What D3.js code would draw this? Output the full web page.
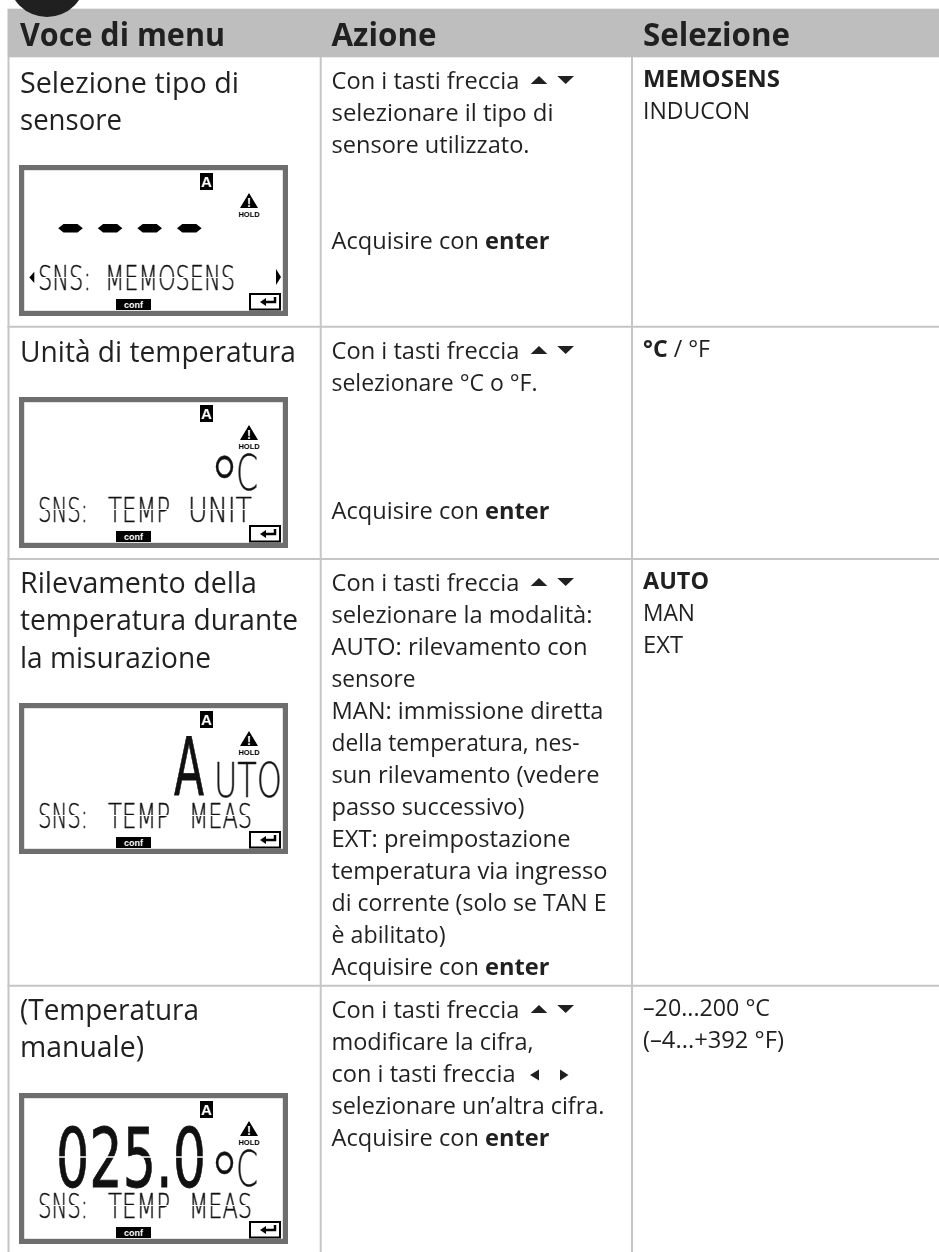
<!DOCTYPE html>
<html>
<head>
<meta charset="utf-8">
<title>Voce di menu</title>
<script src="https://d3js.org/d3.v7.min.js"></script>
<style>
    body { margin: 0; background: #fff; }
    svg { display: block; filter: grayscale(1); }
    text { fill: #231f20; }
    .head { font: 700 32px "Open Sans"; }
    .big { font: 400 30px "Open Sans"; }
    .mid, .sel { font: 400 24px "Open Sans"; }
    .lcd { font-family: "DejaVu Sans"; font-weight: 200; fill: #111; stroke: #111; stroke-width: 0.4; }
</style>
</head>
<body>
<svg id="page" width="939" height="1252"></svg>
<script>
// header labels
const headLabels = ["Voce di menu", "Azione", "Selezione"];

// first column, one list per row
const menuRows = [
    ["Selezione tipo di", "sensore"],
    ["Unità di temperatura"],
    ["Rilevamento della", "temperatura durante", "la misurazione"],
    ["(Temperatura", "manuale)"]
];

// second column, ** marks a bold piece, ^ and < are the arrow keys
const actionRows = [
    ["Con i tasti freccia ^", "selezionare il tipo di", "sensore utilizzato.", "", "", "Acquisire con **enter"],
    ["Con i tasti freccia ^", "selezionare °C o °F.", "", "", "", "Acquisire con **enter"],
    ["Con i tasti freccia ^", "selezionare la modalità:", "AUTO: rilevamento con", "sensore", "MAN: immissione diretta", "della temperatura, nes-", "sun rilevamento (vedere", "passo successivo)", "EXT: preimpostazione", "temperatura via ingresso", "di corrente (solo se TAN E", "è abilitato)", "Acquisire con **enter"],
    ["Con i tasti freccia ^", "modificare la cifra,", "con i tasti freccia <", "selezionare un’altra cifra.", "Acquisire con **enter"]
];

// third column
const selectRows = [
    ["**MEMOSENS", "INDUCON"],
    ["**°C / °F"],
    ["**AUTO", "MAN", "EXT"],
    ["–20...200 °C", "(–4...+392 °F)"]
];

// LCD readouts
const lcdFoot = [["SNS:", "MEMOSENS"], ["SNS:", "TEMP", "UNIT"], ["SNS:", "TEMP", "MEAS"], ["SNS:", "TEMP", "MEAS"]];

// layout, kept away from the texts
const headX = [20, 331.5, 643];
const headW = [205, 105, 147];
const menuW = [[219, 102], [276], [237, 278, 191], [179, 124]];
const actionW = [
    [188, 222, 198, 0, 0, 218],
    [188, 206, 0, 0, 0, 218],
    [188, 261, 256, 84, 272, 248, 268, 193, 239, 276, 275, 114, 218],
    [188, 202, 184, 273, 218]
];
const selectW = [[137, 107], [67], [66, 52, 40], [127, 141]];
const menuBase = [92.7, 361.5, 592.7, 1020];
const actionBase = [89, 359, 591, 1018];
const rowLines = [326.7, 559, 985.7];
const colLines = [8.5, 320.7, 632];
const lcdTops = [165, 397, 703, 1093];
const footX = [[19, 86], [19, 89, 169], [19, 89, 170], [19, 89, 170]];
const footW = [[53, 130], [50, 62, 64], [50, 62, 63], [50, 62, 63]];

const svg = d3.select("#page");
const grey = "#c4c5c7";
const ink = "#231f20";

// grid
svg.append("rect").attr("x", 7.5).attr("y", 8.7).attr("width", 931.5).attr("height", 48.6).attr("fill", "#bcbec0");
colLines.forEach(x => svg.append("line").attr("x1", x).attr("x2", x).attr("y1", 57).attr("y2", 1252).attr("stroke", grey).attr("stroke-width", 2));
rowLines.forEach(y => svg.append("line").attr("x1", 7.5).attr("x2", 939).attr("y1", y).attr("y2", y).attr("stroke", grey).attr("stroke-width", 2));
svg.append("circle").attr("cx", 47).attr("cy", -21.6).attr("r", 38.6).attr("fill", ink);

// fits a text line to the width measured in the picture
function fit(sel, w) {
    if (w) sel.attr("textLength", w).attr("lengthAdjust", "spacingAndGlyphs");
    return sel;
}

headLabels.forEach((t, i) => {
    fit(svg.append("text").attr("class", "head").attr("x", headX[i]).attr("y", 46).text(t), headW[i]);
});

menuRows.forEach((lines, r) => {
    lines.forEach((t, i) => {
        fit(svg.append("text").attr("class", "big").attr("x", 20).attr("y", menuBase[r] + i * 37.4).text(t), menuW[r][i]);
    });
});

function arrowKeys(y, sideways) {
    const g = svg.append("g").attr("transform", `translate(0,${y})`).attr("fill", ink);
    if (sideways) {
        g.append("path").attr("d", "M539,-12.5 V-1.5 L530,-7 Z");
        g.append("path").attr("d", "M560,-12.5 V-1.5 L568.5,-7 Z");
    } else {
        g.append("path").attr("d", "M530.7,-5 H547.3 L539,-13 Z");
        g.append("path").attr("d", "M557.3,-13 H574 L565.7,-5 Z");
    }
}

actionRows.forEach((lines, r) => {
    lines.forEach((t, i) => {
        if (!t) return;
        const y = actionBase[r] + i * 32;
        const tx = svg.append("text").attr("class", "mid").attr("x", 331.5).attr("y", y);
        if (t.includes("**")) {
            const [a, b] = t.split("**");
            tx.append("tspan").text(a);
            tx.append("tspan").attr("font-weight", 700).text(b);
        } else if (t.endsWith("^") || t.endsWith("<")) {
            tx.text(t.slice(0, -2));
            arrowKeys(y, t.endsWith("<"));
        } else {
            tx.text(t);
        }
        fit(tx, actionW[r][i]);
    });
});

selectRows.forEach((lines, r) => {
    lines.forEach((t, i) => {
        const y = actionBase[r] - 2 + i * 32;
        const tx = svg.append("text").attr("class", "sel").attr("x", 643).attr("y", y);
        if (t.startsWith("**°C")) {
            tx.append("tspan").attr("font-weight", 700).text("°C");
            tx.append("tspan").text(" / °F");
        } else if (t.startsWith("**")) {
            tx.style("font-weight", 700).text(t.slice(2));
        } else {
            tx.text(t);
        }
        fit(tx, selectW[r][i]);
    });
});

// LCD panels
lcdTops.forEach((top, n) => {
    const g = svg.append("g").attr("transform", `translate(19,${top})`);
    g.append("rect").attr("x", 2.6).attr("y", 2.6).attr("width", 263.8).attr("height", 145.8)
        .attr("fill", "#fff").attr("stroke", "#6d6e71").attr("stroke-width", 5.2);

    g.append("rect").attr("x", 181).attr("y", 8).attr("width", 13).attr("height", 17).attr("fill", "#000");
    g.append("text").attr("x", 187.5).attr("y", 22).attr("text-anchor", "middle")
        .style("fill", "#fff").style("font", "700 15px 'Liberation Sans'").text("A");

    g.append("path").attr("d", "M230,28 L239,43 L221,43 Z").attr("fill", "#000");
    g.append("text").attr("x", 230).attr("y", 42).attr("text-anchor", "middle")
        .style("fill", "#fff").style("font", "700 12px 'Liberation Sans'").text("!");
    g.append("text").attr("x", 230).attr("y", 52).attr("text-anchor", "middle")
        .style("fill", "#000").style("font", "700 7.5px 'Liberation Sans'").text("HOLD");

    g.append("rect").attr("x", 97).attr("y", 134).attr("width", 35).attr("height", 11).attr("fill", "#000");
    g.append("text").attr("x", 114.5).attr("y", 143).attr("text-anchor", "middle")
        .style("fill", "#fff").style("font", "700 9px 'Liberation Sans'").text("conf");

    g.append("rect").attr("x", 231).attr("y", 129).attr("width", 30).attr("height", 15.5)
        .attr("fill", "none").attr("stroke", "#000").attr("stroke-width", 2);
    g.append("path").attr("d", "M256,132 V137 H246").attr("fill", "none").attr("stroke", "#000").attr("stroke-width", 2.5);
    g.append("path").attr("d", "M247,133 V141 L241,137 Z").attr("fill", "#000");

    lcdFoot[n].forEach((w, i) => {
        fit(g.append("text").attr("class", "lcd").attr("x", footX[n][i]).attr("y", 125)
            .attr("font-size", 34).text(w), footW[n][i]);
    });

    if (n === 0) {
        d3.range(4).forEach(i => {
            const cx = 51.5 + i * 39.6;
            g.append("path").attr("d", `M${cx - 12.3},63.3 L${cx - 7},59 H${cx + 7} L${cx + 12.3},63.3 L${cx + 7},67.6 H${cx - 7} Z`).attr("fill", "#000");
        });
        g.append("path").attr("d", "M15.3,106.7 L10.3,112.4 L15.3,118 Z").attr("fill", "#000");
        g.append("path").attr("d", "M257,104 L262,112 L257,120 Z").attr("fill", "#000");
    }
    if (n === 1 || n === 3) {
        fit(g.append("text").attr("class", "lcd").attr("x", 189.5).attr("y", 119).attr("font-size", 84).text("°"), 32);
        fit(g.append("text").attr("class", "lcd").attr("x", 217).attr("y", 93).attr("font-size", 50).text("C"), 22);
    }
    if (n === 2) {
        fit(g.append("text").attr("class", "lcd").attr("x", 155).attr("y", 92).attr("font-size", 80)
            .style("font-weight", 400).style("stroke-width", 0.8).text("A"), 30);
        fit(g.append("text").attr("class", "lcd").attr("x", 195).attr("y", 94).attr("font-size", 48).text("UTO"), 68);
    }
    if (n === 3) {
        fit(g.append("text").attr("class", "lcd").attr("x", 37).attr("y", 94).attr("font-size", 82)
            .style("font-weight", 400).style("stroke-width", 0.8).text("025.0"), 150);
    }

    // segment gaps of the display
    g.append("line").attr("x1", 19).attr("x2", 240).attr("y1", 112.5).attr("y2", 112.5).attr("stroke", "#fff").attr("stroke-width", 1);
    if (n === 3) g.append("line").attr("x1", 37).attr("x2", 190).attr("y1", 64).attr("y2", 64).attr("stroke", "#fff").attr("stroke-width", 1.5);
});
</script>
</body>
</html>
